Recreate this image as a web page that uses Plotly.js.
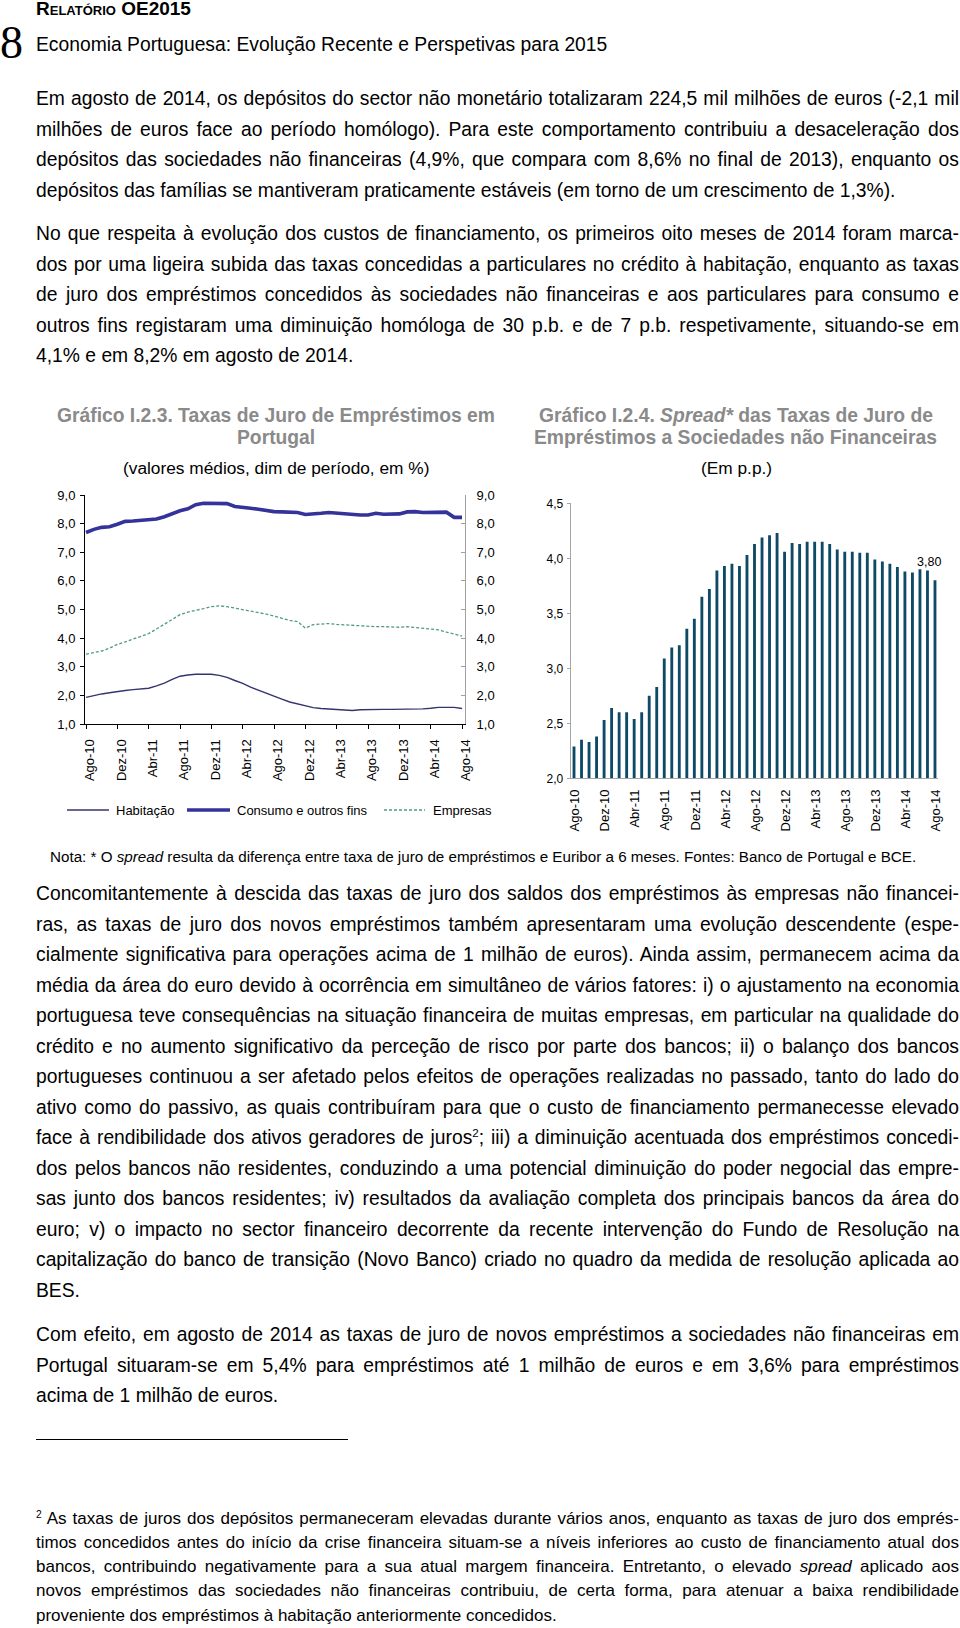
<!DOCTYPE html>
<html><head><meta charset="utf-8">
<script src="https://cdn.plot.ly/plotly-3.0.1.min.js"></script>
<style>
body{margin:0;width:960px;height:1628px;position:relative;background:#fff;font-family:'Liberation Sans',Arial,sans-serif;color:#000;overflow:hidden}
.abs{position:absolute}
.blk{position:absolute;left:36px;width:923px;font-size:19.3px;line-height:30.5px}
.blk div{height:30.5px}
.j{text-align:justify;text-align-last:justify}
.fn{position:absolute;left:36px;width:923px;font-size:17px;line-height:24.1px}
.fn div{height:24.1px}
sup{font-size:0.6em;line-height:0;vertical-align:0.6em}
</style></head>
<body>
<div class="abs" style="left:36px;top:-1px;font-size:19px;font-weight:bold;font-variant:small-caps;line-height:20px">Relatório OE2015</div>
<div class="abs" style="left:0px;top:20px;font-family:'Liberation Serif',serif;font-size:46px;line-height:46px">8</div>
<div class="abs" style="left:36px;top:33px;font-size:19.3px;line-height:24px">Economia Portuguesa: Evolução Recente e Perspetivas para 2015</div>

<div class="blk" style="top:84.4px">
<div class="j">Em agosto de 2014, os depósitos do sector não monetário totalizaram 224,5 mil milhões de euros (-2,1 mil</div>
<div class="j">milhões de euros face ao período homólogo). Para este comportamento contribuiu a desaceleração dos</div>
<div class="j">depósitos das sociedades não financeiras (4,9%, que compara com 8,6% no final de 2013), enquanto os</div>
<div>depósitos das famílias se mantiveram praticamente estáveis (em torno de um crescimento de 1,3%).</div>
</div>

<div class="blk" style="top:219.3px">
<div class="j">No que respeita à evolução dos custos de financiamento, os primeiros oito meses de 2014 foram marca-</div>
<div class="j">dos por uma ligeira subida das taxas concedidas a particulares no crédito à habitação, enquanto as taxas</div>
<div class="j">de juro dos empréstimos concedidos às sociedades não financeiras e aos particulares para consumo e</div>
<div class="j">outros fins registaram uma diminuição homóloga de 30 p.b. e de 7 p.b. respetivamente, situando-se em</div>
<div>4,1% e em 8,2% em agosto de 2014.</div>
</div>

<div id="chart" class="abs" style="left:0;top:380px;width:960px;height:460px"></div>

<div class="abs" style="left:50px;top:847px;font-size:15.2px;line-height:20px">Nota: * O <i>spread</i> resulta da diferença entre taxa de juro de empréstimos e Euribor a 6 meses. Fontes: Banco de Portugal e BCE.</div>

<div class="blk" style="top:879.4px">
<div class="j">Concomitantemente à descida das taxas de juro dos saldos dos empréstimos às empresas não financei-</div>
<div class="j">ras, as taxas de juro dos novos empréstimos também apresentaram uma evolução descendente (espe-</div>
<div class="j">cialmente significativa para operações acima de 1 milhão de euros). Ainda assim, permanecem acima da</div>
<div class="j">média da área do euro devido à ocorrência em simultâneo de vários fatores: i) o ajustamento na economia</div>
<div class="j">portuguesa teve consequências na situação financeira de muitas empresas, em particular na qualidade do</div>
<div class="j">crédito e no aumento significativo da perceção de risco por parte dos bancos; ii) o balanço dos bancos</div>
<div class="j">portugueses continuou a ser afetado pelos efeitos de operações realizadas no passado, tanto do lado do</div>
<div class="j">ativo como do passivo, as quais contribuíram para que o custo de financiamento permanecesse elevado</div>
<div class="j">face à rendibilidade dos ativos geradores de juros<sup>2</sup>; iii) a diminuição acentuada dos empréstimos concedi-</div>
<div class="j">dos pelos bancos não residentes, conduzindo a uma potencial diminuição do poder negocial das empre-</div>
<div class="j">sas junto dos bancos residentes; iv) resultados da avaliação completa dos principais bancos da área do</div>
<div class="j">euro; v) o impacto no sector financeiro decorrente da recente intervenção do Fundo de Resolução na</div>
<div class="j">capitalização do banco de transição (Novo Banco) criado no quadro da medida de resolução aplicada ao</div>
<div>BES.</div>
</div>

<div class="blk" style="top:1320.4px">
<div class="j">Com efeito, em agosto de 2014 as taxas de juro de novos empréstimos a sociedades não financeiras em</div>
<div class="j">Portugal situaram-se em 5,4% para empréstimos até 1 milhão de euros e em 3,6% para empréstimos</div>
<div>acima de 1 milhão de euros.</div>
</div>

<div class="abs" style="left:36px;top:1439px;width:312px;height:0;border-top:1px solid #000"></div>

<div class="fn" style="top:1507.2px">
<div class="j"><sup>2</sup> As taxas de juros dos depósitos permaneceram elevadas durante vários anos, enquanto as taxas de juro dos emprés-</div>
<div class="j">timos concedidos antes do início da crise financeira situam-se a níveis inferiores ao custo de financiamento atual dos</div>
<div class="j">bancos, contribuindo negativamente para a sua atual margem financeira. Entretanto, o elevado <i>spread</i> aplicado aos</div>
<div class="j">novos empréstimos das sociedades não financeiras contribuiu, de certa forma, para atenuar a baixa rendibilidade</div>
<div>proveniente dos empréstimos à habitação anteriormente concedidos.</div>
</div>

<script>
// ---- Data ----
const months = ['Ago-10','Set-10','Out-10','Nov-10','Dez-10',
 'Jan-11','Fev-11','Mar-11','Abr-11','Mai-11','Jun-11','Jul-11','Ago-11','Set-11','Out-11','Nov-11','Dez-11',
 'Jan-12','Fev-12','Mar-12','Abr-12','Mai-12','Jun-12','Jul-12','Ago-12','Set-12','Out-12','Nov-12','Dez-12',
 'Jan-13','Fev-13','Mar-13','Abr-13','Mai-13','Jun-13','Jul-13','Ago-13','Set-13','Out-13','Nov-13','Dez-13',
 'Jan-14','Fev-14','Mar-14','Abr-14','Mai-14','Jun-14','Jul-14','Ago-14'];
const tickLabels = ['Ago-10','Dez-10','Abr-11','Ago-11','Dez-11','Abr-12','Ago-12','Dez-12','Abr-13','Ago-13','Dez-13','Abr-14','Ago-14'];

const habitacao = [1.93,2.00,2.05,2.09,2.14,2.17,2.20,2.23,2.25,2.33,2.43,2.56,2.67,2.71,2.74,2.74,2.74,2.70,2.63,2.52,
 2.42,2.29,2.18,2.07,1.97,1.87,1.77,1.70,1.64,1.57,1.54,1.52,1.51,1.50,1.47,1.50,1.51,1.51,1.51,1.51,
 1.51,1.51,1.51,1.53,1.55,1.58,1.58,1.58,1.54];
const consumo = [7.69,7.80,7.87,7.89,7.98,8.08,8.09,8.11,8.15,8.16,8.24,8.35,8.45,8.52,8.66,8.71,8.71,8.71,8.70,8.60,
 8.58,8.54,8.50,8.45,8.42,8.41,8.39,8.39,8.32,8.33,8.36,8.39,8.36,8.33,8.32,8.30,8.30,8.36,8.33,8.33,
 8.34,8.41,8.42,8.39,8.39,8.42,8.40,8.22,8.22];
const empresas = [3.44,3.50,3.55,3.65,3.78,3.87,3.97,4.07,4.16,4.32,4.49,4.66,4.82,4.91,4.96,5.03,5.10,5.13,5.10,5.05,
 5.00,4.94,4.88,4.84,4.77,4.70,4.62,4.58,4.35,4.47,4.50,4.51,4.48,4.46,4.46,4.43,4.41,4.40,4.40,4.38,
 4.38,4.40,4.37,4.34,4.32,4.29,4.21,4.15,4.07];
const spread = [2.29,2.35,2.33,2.38,2.53,2.64,2.60,2.60,2.54,2.60,2.75,2.83,3.09,3.19,3.21,3.36,3.45,3.65,3.72,3.89,
 3.93,3.95,3.93,4.03,4.13,4.19,4.21,4.23,4.06,4.14,4.13,4.15,4.15,4.15,4.13,4.08,4.06,4.06,4.05,4.05,
 3.99,3.97,3.95,3.92,3.88,3.87,3.90,3.89,3.80];
const seriesNames = ['Habitação','Consumo e outros fins','Empresas'];

// ---- Geometry helpers (div: 960 x 460, top at page y=380) ----
const W = 960, H = 460, TOP = 380;
const fx = px => px / W;
const fy = py => 1 - (py - TOP) / H;

const FONT = 'Liberation Sans, Arial, sans-serif';
const cHab = '#34346E', cCon = '#33339A', cEmp = '#4E9A83', cBar = '#0E4A66';

const traces = [
 {x: months, y: habitacao, name: seriesNames[0], type: 'scatter', mode: 'lines', xaxis: 'x', yaxis: 'y',
  line: {color: cHab, width: 1.4}, hoverinfo: 'skip'},
 {x: months, y: consumo, name: seriesNames[1], type: 'scatter', mode: 'lines', xaxis: 'x', yaxis: 'y',
  line: {color: cCon, width: 3.6}, hoverinfo: 'skip'},
 {x: months, y: empresas, name: seriesNames[2], type: 'scatter', mode: 'lines', xaxis: 'x', yaxis: 'y',
  line: {color: cEmp, width: 1.3, dash: '3px,2px'}, hoverinfo: 'skip'},
 {x: months, y: consumo, type: 'scatter', mode: 'lines', xaxis: 'x', yaxis: 'y3',
  line: {color: 'rgba(0,0,0,0)', width: 0}, hoverinfo: 'skip', showlegend: false},
 {x: months, y: spread, type: 'bar', xaxis: 'x2', yaxis: 'y2', marker: {color: cBar}, hoverinfo: 'skip'}
];

const titleFont = {family: FONT, size: 19.3, color: '#8A8A8A'};
const ann = (x, y, text, font, extra) => Object.assign({xref: 'paper', yref: 'paper', x: fx(x), y: fy(y), text: text,
  showarrow: false, xanchor: 'center', yanchor: 'middle', font: font}, extra || {});

const annotations = [
 ann(276, 415, '<b>Gráfico I.2.3. Taxas de Juro de Empréstimos em</b>', titleFont),
 ann(276, 437, '<b>Portugal</b>', titleFont),
 ann(276, 468, '(valores médios, dim de período, em %)', {family: FONT, size: 17.3, color: '#000'}),
 ann(736, 415, '<b>Gráfico I.2.4. <i>Spread*</i> das Taxas de Juro de</b>', titleFont),
 ann(735, 437, '<b>Empréstimos a Sociedades não Financeiras</b>', titleFont),
 ann(736, 468, '(Em p.p.)', {family: FONT, size: 17.3, color: '#000'}),
 {xref: 'x2', yref: 'y2', x: months[months.length - 1], y: spread[spread.length - 1],
  text: spread[spread.length - 1].toFixed(2).replace('.', ','), showarrow: false, yanchor: 'bottom',
  yshift: 9, xshift: -6, font: {family: FONT, size: 12.5, color: '#000'}},
 ann(114, 810, seriesNames[0], {family: FONT, size: 13, color: '#000'}, {xanchor: 'left'}),
 ann(235, 810, seriesNames[1], {family: FONT, size: 13, color: '#000'}, {xanchor: 'left'}),
 ann(431, 810, seriesNames[2], {family: FONT, size: 13, color: '#000'}, {xanchor: 'left'})
];

const shapes = [
 {type: 'line', xref: 'paper', yref: 'paper', x0: fx(67), x1: fx(109), y0: fy(810), y1: fy(810), line: {color: cHab, width: 1.4}},
 {type: 'line', xref: 'paper', yref: 'paper', x0: fx(187), x1: fx(230), y0: fy(810), y1: fy(810), line: {color: cCon, width: 3.6}},
 {type: 'line', xref: 'paper', yref: 'paper', x0: fx(384), x1: fx(425), y0: fy(810), y1: fy(810), line: {color: cEmp, width: 1.3, dash: '3px,2px'}}
];

const tickFont = {family: FONT, size: 13, color: '#000'};
const layout = {
 width: W, height: H, margin: {l: 0, r: 0, t: 0, b: 0},
 paper_bgcolor: 'rgba(0,0,0,0)', plot_bgcolor: 'rgba(0,0,0,0)',
 showlegend: false, separators: ',.', bargap: 0.62,
 font: {family: FONT, size: 13, color: '#000'},
 xaxis: {domain: [fx(85), fx(465)], type: 'category', range: [-0.13, 48.38], anchor: 'y',
  tickmode: 'array', tickvals: tickLabels, ticktext: tickLabels, tickangle: -90, tickfont: tickFont,
  ticks: 'outside', ticklen: 4, tickcolor: '#000', showline: true, linecolor: '#000', linewidth: 1,
  showgrid: false, zeroline: false, ticklabelshift: 4, ticklabelstandoff: 5},
 yaxis: {domain: [fy(724), fy(495)], range: [1, 9], dtick: 1, tickformat: '.1f', anchor: 'x', tickfont: tickFont,
  ticks: 'outside', ticklen: 4, tickcolor: '#000', showline: true, linecolor: '#000', linewidth: 1,
  showgrid: false, zeroline: false, ticklabelstandoff: 2},
 yaxis3: {overlaying: 'y', side: 'right', anchor: 'x', range: [1, 9], dtick: 1, tickformat: '.1f', tickfont: tickFont,
  ticks: 'inside', ticklen: 4, tickcolor: '#A0A0A0', showline: true, linecolor: '#A0A0A0', linewidth: 1,
  showgrid: false, zeroline: false, ticklabelstandoff: 8},
 xaxis2: {domain: [fx(570.7), fx(938)], type: 'category', range: [-0.44, 48.4], anchor: 'y2',
  tickmode: 'array', tickvals: tickLabels, ticktext: tickLabels, tickangle: -90, tickfont: tickFont,
  ticks: '', showline: true, linecolor: '#A6A6A6', linewidth: 1, showgrid: false, zeroline: false,
  ticklabelshift: 1, ticklabelstandoff: 5},
 yaxis2: {domain: [fy(778.3), fy(503.3)], range: [2, 4.5], dtick: 0.5, tickformat: '.1f', anchor: 'x2',
  tickfont: {family: FONT, size: 12, color: '#000'},
  ticks: 'outside', ticklen: 3, tickcolor: '#A6A6A6', showline: true, linecolor: '#A6A6A6', linewidth: 1,
  showgrid: false, zeroline: false, ticklabelstandoff: 1},
 annotations: annotations, shapes: shapes
};

Plotly.newPlot('chart', traces, layout, {staticPlot: true, displayModeBar: false});
</script>
</body></html>
